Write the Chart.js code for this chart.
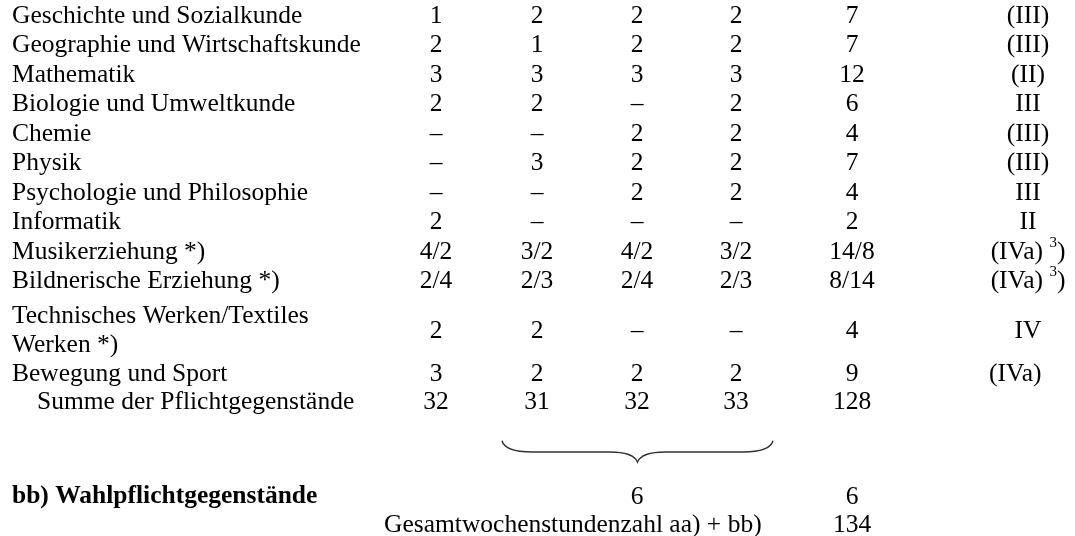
<!DOCTYPE html>
<html lang="de">
<head>
<meta charset="UTF-8">
<title>Stundentafel</title>
<script src="https://cdn.jsdelivr.net/npm/chart.js"></script>
<style>
  html, body { margin: 0; padding: 0; background: #fff; }
  #wrap { width: 1075px; height: 536px; }
</style>
</head>
<body>
<div id="wrap"><canvas id="tafel" width="1075" height="536"></canvas></div>
<script>
// Pflichtgegenstände
const gegenstaende = [
  'Geschichte und Sozialkunde',
  'Geographie und Wirtschaftskunde',
  'Mathematik',
  'Biologie und Umweltkunde',
  'Chemie',
  'Physik',
  'Psychologie und Philosophie',
  'Informatik',
  'Musikerziehung *)',
  'Bildnerische Erziehung *)',
  'Technisches Werken/Textiles\nWerken *)',
  'Bewegung und Sport'
];
const klasse5 = ['1', '2', '3', '2', '–', '–', '–', '2', '4/2', '2/4', '2', '3'];
const klasse6 = ['2', '1', '3', '2', '–', '3', '–', '–', '3/2', '2/3', '2', '2'];
const klasse7 = ['2', '2', '3', '–', '2', '2', '2', '–', '4/2', '2/4', '–', '2'];
const klasse8 = ['2', '2', '3', '2', '2', '2', '2', '–', '3/2', '2/3', '–', '2'];
const summe = ['7', '7', '12', '6', '4', '7', '4', '2', '14/8', '8/14', '4', '9'];
const lehrverpflichtung = ['(III)', '(III)', '(II)', 'III', '(III)', '(III)', 'III', 'II', '(IVa) ^3)', '(IVa) ^3)', 'IV', '(IVa)\u2003'];

const summeLabel = 'Summe der Pflichtgegenstände';
const summePflicht = ['32', '31', '32', '33', '128'];
const wahlLabel = 'bb) Wahlpflichtgegenstände';
const wahlStunden = ['6', '6'];
const gesamtLabel = 'Gesamtwochenstundenzahl aa) + bb)';
const gesamtStunden = ['134'];

// Layout: x in Pixeln, y in Zeilen
const colX = [12, 436, 537, 637, 736, 852, 1028];
const indentX = 37;
const gesamtX = 384;
const rowY = [0, 1, 2, 3, 4, 5, 6, 7, 8, 9, 10.68, 12.15];
const summeY = 13.08;
const braceY = [14.4, 14.78, 15.12];
const braceX = [502, 773];
const wahlY = 16.3;
const gesamtY = 17.25;
const rowPx = 29.5, topPx = 16, lineGap = 29;

const FONT = '25.5px "Liberation Serif", "Times New Roman", serif';
const SUP = '15px "Liberation Serif", "Times New Roman", serif';
const BOLD = 'bold 25.5px "Liberation Serif", "Times New Roman", serif';

function cells(vals, x, ys) {
  return vals.map((t, i) => ({
    x: Array.isArray(x) ? x[i] : x,
    y: Array.isArray(ys) ? ys[i] : ys,
    t: t
  }));
}

const datasets = [
  { data: cells(gegenstaende, colX[0], rowY), align: 'left' },
  { data: cells(klasse5, colX[1], rowY) },
  { data: cells(klasse6, colX[2], rowY) },
  { data: cells(klasse7, colX[3], rowY) },
  { data: cells(klasse8, colX[4], rowY) },
  { data: cells(summe, colX[5], rowY) },
  { data: cells(lehrverpflichtung, colX[6], rowY) },
  { data: cells([summeLabel], indentX, summeY), align: 'left' },
  { data: cells(summePflicht, colX.slice(1, 6), summeY) },
  { data: cells([wahlLabel], colX[0], wahlY), align: 'left', bold: true },
  { data: cells(wahlStunden, [colX[3], colX[5]], wahlY) },
  { data: cells([gesamtLabel], gesamtX, gesamtY), align: 'left' },
  { data: cells(gesamtStunden, colX[5], gesamtY) }
].map(d => Object.assign({ pointRadius: 0, pointHoverRadius: 0 }, d));

function drawCell(ctx, text, x, y, align) {
  const sup = text.indexOf('^');
  if (sup < 0) {
    ctx.textAlign = align;
    ctx.fillText(text, x, y);
    return;
  }
  // "(IVa) ³)" mit hochgestellter Fußnote
  const a = text.slice(0, sup), s = text.charAt(sup + 1), b = text.slice(sup + 2);
  const wa = ctx.measureText(a).width, wb = ctx.measureText(b).width;
  ctx.font = SUP;
  const ws = ctx.measureText(s).width;
  ctx.font = FONT;
  const left = x - (wa + ws + wb) / 2;
  ctx.textAlign = 'left';
  ctx.fillText(a, left, y);
  ctx.font = SUP;
  ctx.fillText(s, left + wa, y - 9);
  ctx.font = FONT;
  ctx.fillText(b, left + wa + ws, y);
}

const tablePlugin = {
  id: 'tablePlugin',
  afterDatasetsDraw(chart) {
    const ctx = chart.ctx;
    ctx.save();
    ctx.fillStyle = '#000';
    ctx.textBaseline = 'middle';
    chart.data.datasets.forEach((ds, di) => {
      const meta = chart.getDatasetMeta(di);
      meta.data.forEach((el, i) => {
        ctx.font = ds.bold ? BOLD : FONT;
        const lines = String(ds.data[i].t).split('\n');
        lines.forEach((ln, k) => {
          const y = el.y + (k - (lines.length - 1) / 2) * lineGap;
          drawCell(ctx, ln, el.x, y, ds.align || 'center');
        });
      });
    });

    // geschweifte Klammer unter den Summen der Klassen 6 bis 8
    const xs = chart.scales.x, ys = chart.scales.y;
    const x0 = xs.getPixelForValue(braceX[0]), x1 = xs.getPixelForValue(braceX[1]);
    const xm = (x0 + x1) / 2;
    const yt = ys.getPixelForValue(braceY[0]);
    const ym = ys.getPixelForValue(braceY[1]);
    const yb = ys.getPixelForValue(braceY[2]);
    ctx.strokeStyle = '#333';
    ctx.lineWidth = 1.4;
    ctx.beginPath();
    ctx.moveTo(x0, yt);
    ctx.quadraticCurveTo(x0 + 3, ym, x0 + 30, ym);
    ctx.lineTo(xm - 28, ym);
    ctx.quadraticCurveTo(xm - 4, ym, xm, yb);
    ctx.quadraticCurveTo(xm + 4, ym, xm + 28, ym);
    ctx.lineTo(x1 - 30, ym);
    ctx.quadraticCurveTo(x1 - 3, ym, x1, yt);
    ctx.stroke();
    ctx.restore();
  }
};

new Chart(document.getElementById('tafel').getContext('2d'), {
  type: 'scatter',
  data: { datasets: datasets },
  options: {
    responsive: false,
    animation: false,
    events: [],
    layout: { padding: 0 },
    plugins: { legend: { display: false }, tooltip: { enabled: false } },
    scales: {
      x: { type: 'linear', display: false, min: 0, max: 1075 },
      y: { type: 'linear', display: false, reverse: true,
           min: -topPx / rowPx, max: (536 - topPx) / rowPx }
    }
  },
  plugins: [tablePlugin]
});
</script>
</body>
</html>
